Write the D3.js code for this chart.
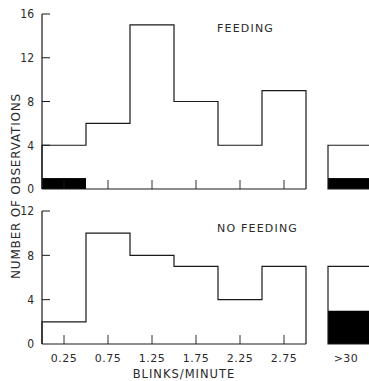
<!DOCTYPE html>
<meta charset="utf-8">
<head>
    <style>
        body { margin: 0; background: #fff; }
        text {
            font-family: "DejaVu Sans", Arial, sans-serif;
            fill: #2a2a2a;
            letter-spacing: 1px;
        }
        .axis-line, .hist {
            fill: none;
            stroke: #1a1a1a;
            stroke-width: 1.2;
        }
    </style>
    <script src="https://d3js.org/d3.v7.min.js"></script>
</head>
<body>
<script>

    // histogram bins, blinks/minute (each bin is 0.5 wide)
    var binStarts = [0, 0.5, 1.0, 1.5, 2.0, 2.5];
    var binWidth = 0.5;
    var xTickValues = [0.25, 0.75, 1.25, 1.75, 2.25, 2.75];
    var xTickLabels = ["0.25", "0.75", "1.25", "1.75", "2.25", "2.75"];

    // FEEDING panel
    var feedingCounts = [4, 6, 15, 8, 4, 9];
    var feedingBlack = [1, 0, 0, 0, 0, 0];
    var feedingOver30 = [4];
    var feedingOver30Black = [1];
    var feedingTicks = [0, 4, 8, 12, 16];

    // NO FEEDING panel
    var noFeedingCounts = [2, 10, 8, 7, 4, 7];
    var noFeedingBlack = [0, 0, 0, 0, 0, 0];
    var noFeedingOver30 = [7];
    var noFeedingOver30Black = [3];
    var noFeedingTicks = [0, 4, 8, 12];

    var over30Labels = [">30"];

    var width = 369, height = 381;

    var svg = d3.select("body").append("svg")
        .attr("width", width)
        .attr("height", height);

    var x = d3.scaleLinear().domain([0, 3]).range([42, 306]);
    var xOver = d3.scaleBand().domain(over30Labels).range([328, 372]);

    function drawPanel(cfg) {
        var y = d3.scaleLinear().domain([0, cfg.max]).range([cfg.y0, cfg.y1]);
        var g = svg.append("g");

        // black (filled) part of bins
        g.selectAll("rect.black")
            .data(cfg.black)
            .enter().append("rect")
            .filter(function (d) { return d > 0; })
            .attr("x", function (d, i) { return x(binStarts[i]); })
            .attr("y", function (d) { return y(d); })
            .attr("width", x(binWidth) - x(0))
            .attr("height", function (d) { return y(0) - y(d); })
            .attr("fill", "#000");

        // step outline
        var p = d3.path();
        p.moveTo(x(0), y(0));
        cfg.counts.forEach(function (c, i) {
            p.lineTo(x(binStarts[i]), y(c));
            p.lineTo(x(binStarts[i] + binWidth), y(c));
        });
        p.lineTo(x(3), y(0));
        g.append("path").attr("class", "hist").attr("d", p.toString());

        // axes
        g.append("line").attr("class", "axis-line")
            .attr("x1", x(0)).attr("x2", x(3))
            .attr("y1", y(0)).attr("y2", y(0));
        g.append("line").attr("class", "axis-line")
            .attr("x1", x(0)).attr("x2", x(0))
            .attr("y1", y(0)).attr("y2", y(cfg.max));

        // y ticks point inwards
        g.selectAll("line.yt")
            .data(cfg.ticks.filter(function (t) { return t > 0; }))
            .enter().append("line")
            .attr("x1", x(0)).attr("x2", x(0) + 8)
            .attr("y1", y).attr("y2", y)
            .attr("stroke", "#1a1a1a").attr("stroke-width", 1);
        g.selectAll("text.yl")
            .data(cfg.ticks)
            .enter().append("text")
            .attr("x", 34)
            .attr("y", y)
            .attr("dy", "0.36em")
            .attr("text-anchor", "end")
            .attr("font-size", 12)
            .style("font-family", "'Liberation Sans Narrow', 'DejaVu Sans Condensed', sans-serif")
            .style("letter-spacing", "0px")
            .text(function (d) { return d; });

        // x ticks point up
        g.selectAll("line.xt")
            .data(xTickValues)
            .enter().append("line")
            .attr("x1", x).attr("x2", x)
            .attr("y1", y(0)).attr("y2", y(0) - 9)
            .attr("stroke", "#1a1a1a").attr("stroke-width", 0.9);

        // >30 side box
        var bx = xOver(">30"), bw = xOver.bandwidth();
        g.selectAll("rect.ob")
            .data(cfg.over30Black)
            .enter().append("rect")
            .attr("x", bx).attr("y", function (d) { return y(d); })
            .attr("width", bw)
            .attr("height", function (d) { return y(0) - y(d); })
            .attr("fill", "#000");
        g.selectAll("path.ov")
            .data(cfg.over30)
            .enter().append("path")
            .attr("class", "hist")
            .attr("d", function (d) {
                return "M" + bx + "," + y(0) + "V" + y(d) + "H" + (bx + bw) + "V" + y(0) + "Z";
            });

        g.append("text")
            .attr("x", cfg.titleX)
            .attr("y", cfg.titleY)
            .attr("font-size", 11)
            .style("letter-spacing", "1.2px")
            .text(cfg.title);

        return y;
    }

    drawPanel({
        counts: feedingCounts, black: feedingBlack,
        over30: feedingOver30, over30Black: feedingOver30Black,
        ticks: feedingTicks, max: 16, y0: 189, y1: 14,
        title: "FEEDING", titleX: 217, titleY: 32
    });

    var yb = drawPanel({
        counts: noFeedingCounts, black: noFeedingBlack,
        over30: noFeedingOver30, over30Black: noFeedingOver30Black,
        ticks: noFeedingTicks, max: 12, y0: 344, y1: 211,
        title: "NO  FEEDING", titleX: 217, titleY: 232
    });

    // x tick labels (bottom panel only)
    svg.selectAll("text.xl")
        .data(xTickValues)
        .enter().append("text")
        .attr("x", x)
        .attr("y", 362)
        .attr("text-anchor", "middle")
        .attr("font-size", 11)
        .style("letter-spacing", "0.5px")
        .text(function (d, i) { return xTickLabels[i]; });

    svg.selectAll("text.ol")
        .data(over30Labels)
        .enter().append("text")
        .attr("x", xOver(">30") + 18)
        .attr("y", 362)
        .attr("text-anchor", "middle")
        .attr("font-size", 11)
        .style("letter-spacing", "0.5px")
        .text(function (d) { return d; });

    svg.append("text")
        .attr("x", 184)
        .attr("y", 378)
        .attr("text-anchor", "middle")
        .attr("font-size", 11.5)
        .style("letter-spacing", "1px")
        .text("BLINKS/MINUTE");

    svg.append("text")
        .attr("transform", "translate(20,186) rotate(-90)")
        .attr("text-anchor", "middle")
        .attr("font-size", 12)
        .style("letter-spacing", "0.8px")
        .text("NUMBER OF OBSERVATIONS");

</script>
</body>
</html>
